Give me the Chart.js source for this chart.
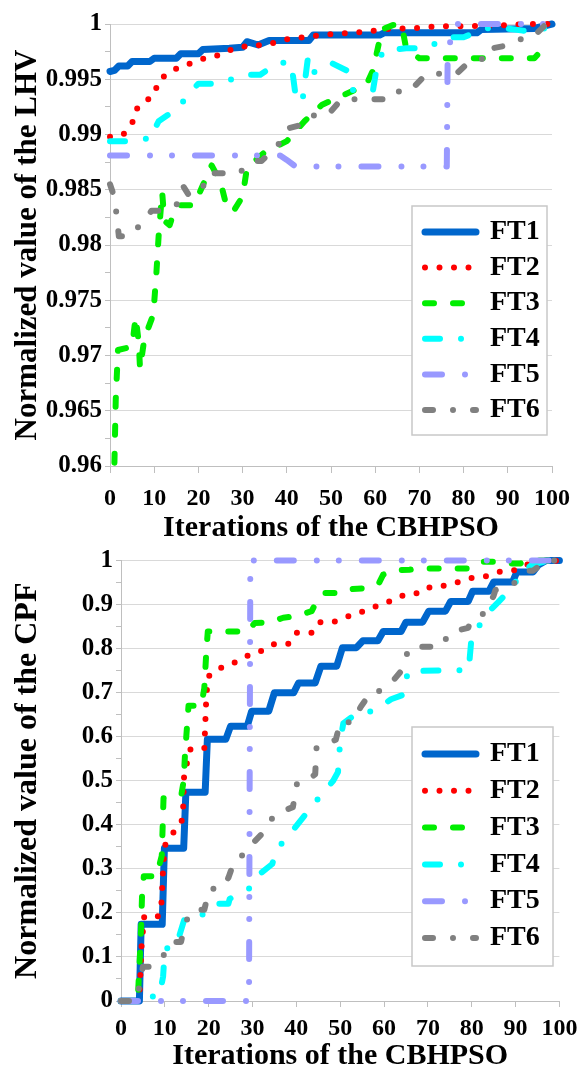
<!DOCTYPE html>
<html>
<head>
<meta charset="utf-8">
<script src="https://cdn.jsdelivr.net/npm/chart.js@4.4.1/dist/chart.umd.min.js"></script>
<style>
  html, body { margin: 0; padding: 0; background: #fff; }
  canvas { position: absolute; left: 0; }
  #lhvChart { top: 0; }
  #cpfChart { top: 545px; }
</style>
</head>
<body>
<canvas id="lhvChart" width="585" height="545"></canvas>
<canvas id="cpfChart" width="585" height="530"></canvas>
<script>
// shared
const seriesNames = ['FT1', 'FT2', 'FT3', 'FT4', 'FT5', 'FT6'];
const iterTicks = [0, 10, 20, 30, 40, 50, 60, 70, 80, 90, 100];

// top chart: normalized LHV, [iteration, value]
const lhvTicks = [0.96, 0.965, 0.97, 0.975, 0.98, 0.985, 0.99, 0.995, 1];
const lhvTickLabels = ['0.96', '0.965', '0.97', '0.975', '0.98', '0.985', '0.99', '0.995', '1'];
const lhvFT1 = [[0,0.9957],[1,0.9958],[2,0.9962],[4,0.9962],[5,0.9966],[9,0.9966],[10,0.9969],[15,0.9969],[16,0.9973],[20,0.9973],[21,0.9977],[27,0.9978],[30,0.9979],[31,0.9984],[33.5,0.9981],[36,0.9985],[45,0.9985],[46,0.999],[61,0.999],[62,0.9992],[83,0.9992],[84,0.9995],[96,0.9996],[100,1]];
const lhvFT2 = [[0,0.9898],[3,0.99],[5,0.991],[6,0.9923],[8,0.993],[10,0.9936],[11,0.9949],[13,0.9955],[16,0.9962],[19,0.9965],[22,0.997],[25,0.9972],[28,0.9978],[31,0.998],[35,0.9981],[38,0.9984],[41,0.9987],[44,0.9988],[48,0.999],[51,0.9991],[54,0.9992],[58,0.9993],[64,0.9996],[68,0.9996],[74,0.9998],[81,0.9998],[91,0.9999],[94,1],[100,1]];
const lhvFT3 = [[1,0.9603],[1.3,0.966],[1.8,0.9705],[5,0.9708],[5.8,0.9735],[6.5,0.9712],[6.8,0.9688],[7.8,0.9716],[9.8,0.9737],[10.5,0.9775],[11,0.9808],[11.8,0.9848],[12.3,0.9822],[13.5,0.9818],[14.5,0.983],[16,0.9836],[19,0.9836],[21,0.9854],[23,0.9872],[25,0.9857],[26.5,0.9833],[28,0.9831],[30,0.9844],[31,0.987],[35,0.9884],[40,0.9894],[44,0.9912],[48,0.9927],[53,0.9936],[58,0.9945],[59.5,0.9958],[61.5,0.9995],[64,0.9999],[66,0.9999],[67,0.9978],[70,0.9969],[96,0.9969],[98,0.9978],[100,0.9981]];
const lhvFT4 = [[0,0.9894],[4.5,0.9894],[9.8,0.9897],[10.5,0.9908],[11,0.9912],[15.8,0.9925],[17.3,0.9935],[20,0.9946],[25,0.9946],[30,0.9954],[34,0.9954],[38,0.9965],[41,0.9965],[42,0.9935],[43.5,0.9929],[44.8,0.997],[46,0.9956],[50,0.9965],[53.5,0.9958],[55,0.994],[59.5,0.994],[60.4,0.9962],[61.8,0.9976],[67,0.9978],[71.7,0.9978],[76,0.9988],[80,0.9988],[85,0.9996],[88,0.9997],[93.4,0.9994],[97.3,0.9994],[100,1]];
const lhvFT5 = [[0,0.9881],[38.5,0.9881],[40,0.9877],[42,0.9871],[76.2,0.9871],[76.4,0.9975],[78,1],[100,1]];
const lhvFT6 = [[0,0.9855],[1,0.9843],[1.5,0.9827],[2,0.9808],[4.5,0.9808],[7,0.9819],[9.4,0.9831],[12,0.9831],[15.2,0.9837],[16.6,0.9853],[17.7,0.9846],[20.6,0.9848],[22.2,0.9865],[29.2,0.9865],[32,0.9876],[34.3,0.9876],[37,0.9887],[39.6,0.9897],[40.7,0.9906],[44.5,0.991],[47,0.9921],[50,0.9921],[52.4,0.9932],[63.9,0.9932],[66.4,0.9944],[69,0.9944],[71.6,0.9955],[78.4,0.9955],[81.3,0.9966],[86,0.997],[86.4,0.9978],[90.5,0.9981],[94.2,0.9989],[95.9,0.9989],[98.7,1],[100,1]];

// bottom chart: normalized CPF, [iteration, value]
const cpfTicks = [0, 0.1, 0.2, 0.3, 0.4, 0.5, 0.6, 0.7, 0.8, 0.9, 1];
const cpfTickLabels = ['0', '0.1', '0.2', '0.3', '0.4', '0.5', '0.6', '0.7', '0.8', '0.9', '1'];
const cpfFT1 = [[0,0],[4.2,0],[4.6,0.174],[9.4,0.174],[9.9,0.347],[14.3,0.347],[14.8,0.474],[19.2,0.474],[19.7,0.594],[23.9,0.594],[25,0.624],[28.8,0.624],[29.8,0.658],[33.7,0.658],[35,0.7],[39.4,0.7],[40.5,0.722],[44.3,0.722],[45.6,0.76],[49.2,0.76],[50.5,0.802],[53.7,0.802],[55.2,0.818],[58.6,0.818],[59.8,0.839],[63.9,0.839],[65,0.86],[68.8,0.86],[70.2,0.885],[74,0.885],[75.2,0.907],[79.2,0.907],[80.2,0.93],[83.9,0.93],[85,0.951],[89.3,0.951],[90.3,0.974],[94,0.974],[95.2,0.99],[97,1],[100,1]];
const cpfFT2 = [[0,0],[4,0],[4.3,0.03],[4.7,0.127],[5.3,0.192],[8.4,0.192],[9.2,0.217],[9.6,0.3],[10,0.353],[12.6,0.392],[14.1,0.413],[14.4,0.514],[15.8,0.571],[19,0.573],[19.5,0.7],[20.1,0.738],[22,0.753],[24.7,0.764],[27.3,0.774],[29.6,0.788],[32.4,0.796],[35.1,0.811],[38.4,0.811],[40.1,0.836],[43.5,0.836],[45.2,0.86],[48.4,0.86],[51.4,0.872],[54,0.879],[56.7,0.891],[59.5,0.9],[62.2,0.911],[65,0.924],[68.2,0.926],[70.7,0.941],[74,0.943],[76.9,0.951],[79.9,0.96],[83.1,0.964],[86.1,0.974],[89.5,0.977],[92.5,0.99],[95.2,0.998],[100,1]];
const cpfFT3 = [[0,0],[3.8,0],[4,0.04],[4.3,0.1],[4.6,0.17],[4.8,0.24],[5.2,0.283],[8.1,0.283],[9.3,0.33],[9.7,0.46],[10.7,0.46],[13.8,0.47],[14.3,0.5],[14.6,0.56],[15.4,0.67],[18.3,0.67],[19,0.71],[19.5,0.8],[19.8,0.839],[28.8,0.839],[30.5,0.858],[34.1,0.86],[37,0.87],[40,0.874],[43.5,0.885],[44.5,0.905],[46.5,0.926],[50.3,0.926],[52.5,0.935],[55.9,0.937],[58.9,0.95],[59.8,0.968],[62.5,0.978],[65.8,0.979],[68,0.982],[80,0.982],[82.5,0.997],[85,0.997],[88.5,0.993],[91,0.993],[93,1],[100,1]];
const cpfFT4 = [[0,0],[7.2,0],[7.4,0.032],[9.2,0.035],[9.6,0.055],[10,0.118],[12.6,0.125],[14.5,0.187],[17.9,0.19],[21.3,0.221],[24.5,0.221],[24.8,0.232],[29.2,0.255],[30.7,0.281],[34.5,0.311],[35.6,0.345],[39.4,0.39],[44.2,0.45],[48.4,0.5],[49.5,0.52],[50,0.59],[50.7,0.63],[54,0.655],[57.8,0.658],[61.6,0.685],[64.6,0.696],[65.4,0.749],[79.3,0.751],[80,0.83],[81.2,0.845],[84.5,0.89],[86,0.905],[89.8,0.945],[90.6,0.967],[93.7,0.99],[97.4,1],[100,1]];
const cpfFT5 = [[0,0],[29.2,0],[29.5,1],[100,1]];
const cpfFT6 = [[0,0],[3.5,0],[4,0.025],[5,0.078],[7,0.078],[9.6,0.102],[11.5,0.134],[13.7,0.134],[14.6,0.177],[16.4,0.207],[19,0.207],[20.1,0.253],[23.5,0.26],[24.5,0.28],[25.9,0.319],[29,0.34],[29.6,0.353],[32.4,0.382],[34.5,0.415],[35.2,0.425],[39.2,0.44],[40.1,0.492],[41.6,0.492],[44.3,0.515],[44.6,0.575],[49,0.593],[50,0.633],[52.9,0.633],[54.7,0.668],[57.1,0.702],[58.6,0.702],[61.8,0.724],[64,0.75],[64.4,0.77],[66,0.804],[73,0.804],[75,0.837],[79.2,0.847],[79.7,0.862],[83.1,0.882],[85,0.92],[85.4,0.933],[89.4,0.946],[92.9,0.977],[94,0.977],[97,1],[100,1]];

// excel-like line looks, one per series
const lineStyles = [
  { color: '#0066cc', width: 7, dash: [] },
  { color: '#ff0000', width: 6, dash: [0, 14.5] },
  { color: '#00ee00', width: 6, dash: [9, 19] },
  { color: '#00ffff', width: 6, dash: [15, 21, 0, 21] },
  { color: '#9999ff', width: 6, dash: [17, 23, 0, 22, 0, 23] },
  { color: '#808080', width: 6, dash: [8, 20, 0, 20] }
];

Chart.defaults.font.family = "'Liberation Serif', 'Times New Roman', serif";
Chart.defaults.font.weight = 'bold';
Chart.defaults.color = '#000';

function makeDatasets(seriesList) {
  return seriesList.map((pairs, i) => ({
    label: seriesNames[i],
    data: pairs.map(p => ({ x: p[0], y: p[1] })),
    showLine: true,
    borderColor: lineStyles[i].color,
    backgroundColor: lineStyles[i].color,
    borderWidth: lineStyles[i].width,
    borderDash: lineStyles[i].dash,
    borderCapStyle: 'round',
    borderJoinStyle: 'round',
    pointRadius: 0,
    pointHoverRadius: 0,
    order: seriesNames.length - i,
    clip: 5
  }));
}

// major ticks plus a minor one halfway
function withMinor(values) {
  const out = [];
  values.forEach((v, i) => {
    out.push({ value: v });
    if (i < values.length - 1) out.push({ value: (v + values[i + 1]) / 2 });
  });
  return out;
}

// moves the legend inside the plot and gives it a white framed box
const legendFrame = {
  id: 'legendFrame',
  afterLayout(chart, args, opts) {
    const lg = chart.legend;
    if (!lg) return;
    lg.left = opts.itemsX;
    lg.top = opts.itemsY;
    lg.width = 135;
    lg.height = 300;
    lg.right = lg.left + lg.width;
    lg.bottom = lg.top + lg.height;
    if (!lg.framePatched) {
      const baseDraw = lg.draw;
      lg.draw = function (area) {
        const f = chart.options.plugins.legendFrame.frame;
        const ctx = chart.ctx;
        ctx.save();
        ctx.fillStyle = '#fff';
        ctx.fillRect(f[0], f[1], f[2], f[3]);
        ctx.strokeStyle = '#c8c8c8';
        ctx.lineWidth = 1.5;
        ctx.strokeRect(f[0], f[1], f[2], f[3]);
        ctx.restore();
        baseDraw.call(this, area);
      };
      lg.framePatched = true;
    }
  }
};

function makeOptions(p) {
  return {
    responsive: false,
    animation: false,
    devicePixelRatio: 1,
    layout: { padding: { left: 0, right: p.padRight, top: p.padTop, bottom: 0 } },
    scales: {
      x: {
        type: 'linear',
        min: 0,
        max: 100,
        afterBuildTicks: s => { s.ticks = iterTicks.map(v => ({ value: v })); },
        afterFit: s => { s.height = p.xHeight; },
        grid: { drawOnChartArea: false, drawTicks: true, tickLength: p.xTickLen, color: '#bfbfbf' },
        border: { color: '#bfbfbf' },
        ticks: { autoSkip: false, maxRotation: 0, padding: p.xTickPad, font: { size: 24 } },
        title: { display: true, text: 'Iterations of the CBHPSO', font: { size: 30, lineHeight: 1 }, padding: { top: 0, bottom: p.xTitlePad } }
      },
      y: {
        type: 'linear',
        min: p.yTicks[0],
        max: p.yTicks[p.yTicks.length - 1],
        afterBuildTicks: s => { s.ticks = withMinor(p.yTicks); },
        afterFit: s => { s.width = p.yWidth; },
        grid: {
          color: c => (c.index % 2 ? 'rgba(0,0,0,0)' : '#d9d9d9'),
          tickColor: '#bfbfbf',
          tickLength: 5
        },
        border: { color: '#bfbfbf' },
        ticks: {
          autoSkip: false,
          padding: 3,
          font: { size: 25, lineHeight: 1 },
          callback: (v, i) => (i % 2 ? '' : p.yLabels[i / 2])
        },
        title: { display: true, text: p.yTitle, font: { size: p.yTitleSize, lineHeight: 1 }, padding: { top: p.yTitlePad, bottom: 0 } }
      }
    },
    plugins: {
      tooltip: { enabled: false },
      legend: {
        position: 'chartArea',
        align: 'start',
        labels: {
          usePointStyle: true,
          pointStyleWidth: 51,
          padding: p.legendPad,
          font: { size: 28 },
          color: '#000',
          generateLabels: chart => chart.data.datasets.map((ds, i) => ({
            text: ds.label,
            datasetIndex: i,
            hidden: false,
            strokeStyle: ds.borderColor,
            fillStyle: ds.borderColor,
            lineWidth: ds.borderWidth,
            lineDash: ds.borderDash,
            lineCap: ds.borderCapStyle,
            lineJoin: 'round',
            pointStyle: 'line',
            fontColor: '#000'
          }))
        }
      },
      legendFrame: { frame: p.frame, itemsX: p.itemsX, itemsY: p.itemsY }
    }
  };
}

new Chart(document.getElementById('lhvChart'), {
  type: 'scatter',
  data: { datasets: makeDatasets([lhvFT1, lhvFT2, lhvFT3, lhvFT4, lhvFT5, lhvFT6]) },
  options: makeOptions({
    padRight: 33, padTop: 24, yWidth: 110, xHeight: 79,
    xTickLen: 7, xTickPad: 11, xTitlePad: 2,
    yTicks: lhvTicks, yLabels: lhvTickLabels,
    yTitle: 'Normalized value of the LHV', yTitleSize: 31, yTitlePad: 12,
    legendPad: 7.6, itemsX: 417.4, itemsY: 210.4,
    frame: [412, 206, 135, 229]
  }),
  plugins: [legendFrame]
});

new Chart(document.getElementById('cpfChart'), {
  type: 'scatter',
  data: { datasets: makeDatasets([cpfFT1, cpfFT2, cpfFT3, cpfFT4, cpfFT5, cpfFT6]) },
  options: makeOptions({
    padRight: 22, padTop: 14, yWidth: 121, xHeight: 74,
    xTickLen: 6, xTickPad: 7.6, xTitlePad: 4,
    yTicks: cpfTicks, yLabels: cpfTickLabels,
    yTitle: 'Normalized value of the CPF', yTitleSize: 32, yTitlePad: 12,
    legendPad: 8.8, itemsX: 416.2, itemsY: 186.2,
    frame: [412, 182, 141, 239]
  }),
  plugins: [legendFrame]
});
</script>
</body>
</html>
